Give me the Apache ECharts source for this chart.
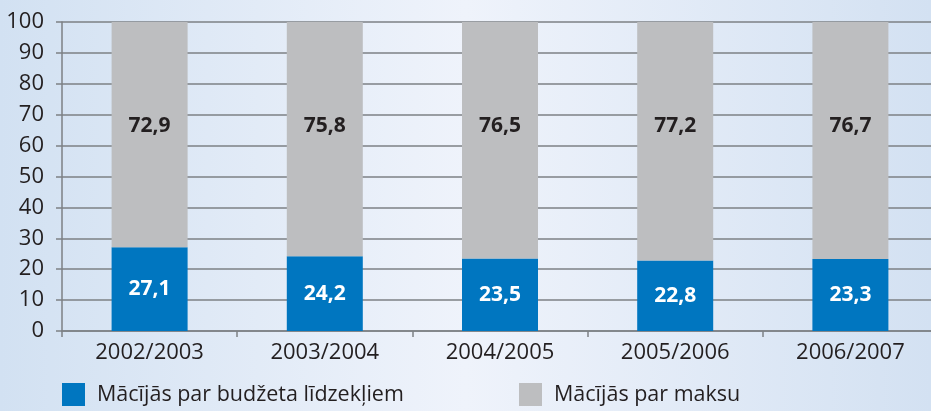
<!DOCTYPE html>
<html>
<head>
<meta charset="utf-8">
<script src="https://cdn.jsdelivr.net/npm/echarts@6/dist/echarts.min.js"></script>
<style>
  html, body { margin: 0; padding: 0; }
  #main { width: 931px; height: 411px; }
</style>
</head>
<body>
<div id="main"></div>
<script>
var years = ['2002/2003', '2003/2004', '2004/2005', '2005/2006', '2006/2007'];
var budzets = [27.1, 24.2, 23.5, 22.8, 23.3];
var maksa = [72.9, 75.8, 76.5, 77.2, 76.7];
var nosaukumi = ['Mācījās par budžeta līdzekļiem', 'Mācījās par maksu'];

var font = 'Open Sans';
var myChart = echarts.init(document.getElementById('main'));

function fmt(p) {
  return String(p.value).replace('.', ',');
}

var option = {
  backgroundColor: {
    type: 'linear', x: 0, y: 0, x2: 1, y2: 0,
    colorStops: [
      { offset: 0, color: '#d2e1f2' },
      { offset: 0.5, color: '#eff3fb' },
      { offset: 1, color: '#d3e1f2' }
    ]
  },
  animation: false,
  textStyle: { fontFamily: font },
  grid: { left: 62, width: 876, top: 22, bottom: 80, outerBoundsMode: 'none' },
  legend: [{
    left: 57, top: 378, itemWidth: 23, itemHeight: 23, icon: 'rect',
    data: [nosaukumi[0]],
    textStyle: { fontSize: 21.5, color: '#231f20', fontFamily: font, padding: [0, 0, 0, 7] }
  }, {
    left: 514, top: 378, itemWidth: 23, itemHeight: 23, icon: 'rect',
    data: [nosaukumi[1]],
    textStyle: { fontSize: 21.5, color: '#231f20', fontFamily: font, padding: [0, 0, 0, 7] }
  }],
  xAxis: {
    type: 'category',
    data: years,
    axisLine: { lineStyle: { color: '#7d8185', width: 1.5 } },
    axisTick: { show: true, length: 6, lineStyle: { color: '#7d8185', width: 1.5 } },
    axisLabel: { fontSize: 22, color: '#231f20', margin: 11 }
  },
  yAxis: {
    type: 'value',
    min: 0, max: 100, interval: 10,
    axisLine: { show: true, lineStyle: { color: '#7d8185', width: 1.5 } },
    axisTick: { show: true, length: 6, lineStyle: { color: '#7d8185', width: 1.5 } },
    axisLabel: { fontSize: 22, color: '#231f20', margin: 18 },
    splitLine: { lineStyle: { color: '#7d8185', width: 1.5 } }
  },
  series: [{
    name: nosaukumi[0],
    type: 'bar',
    stack: 'kopa',
    barWidth: 76,
    data: budzets,
    itemStyle: { color: '#0076c0' },
    label: {
      show: true, position: 'inside', formatter: fmt,
      fontSize: 21, fontWeight: 'bold', color: '#ffffff'
    }
  }, {
    name: nosaukumi[1],
    type: 'bar',
    stack: 'kopa',
    barWidth: 76,
    data: maksa,
    itemStyle: { color: '#bdbec0' },
    label: {
      show: true, position: 'insideTop', distance: 94, formatter: fmt,
      fontSize: 21, fontWeight: 'bold', color: '#231f20'
    }
  }]
};

myChart.setOption(option);
</script>
</body>
</html>
